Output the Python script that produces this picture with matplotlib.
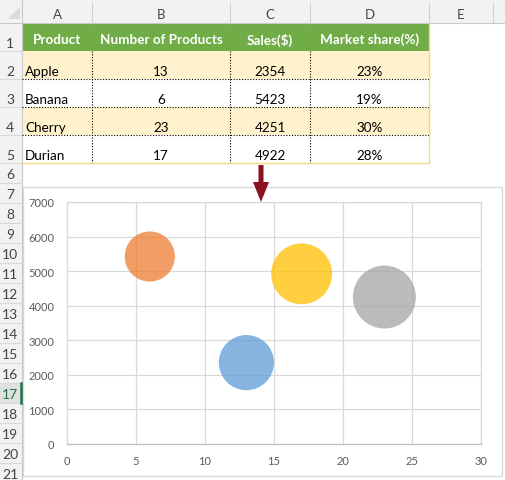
import matplotlib.pyplot as plt
import matplotlib.patches as mpatches
import numpy as np

plt.rcParams['font.family'] = ['Lato', 'DejaVu Sans']

# table / chart data
headers = ['Product', 'Number of Products', 'Sales($)', 'Market share(%)']
products = ['Apple', 'Banana', 'Cherry', 'Durian']
num_products = [13, 6, 23, 17]
sales = [2354, 5423, 4251, 4922]
market_share = [23, 19, 30, 28]
col_letters = ['A', 'B', 'C', 'D', 'E']
row_numbers = list(range(1, 22))
x_ticks = [0, 5, 10, 15, 20, 25, 30]
y_ticks = [0, 1000, 2000, 3000, 4000, 5000, 6000, 7000]
bubble_colors = ['#5B9BD5', '#ED7D31', '#A5A5A5', '#FFC000']

W, H = 506, 481
fig = plt.figure(figsize=(W / 100, H / 100), dpi=100)

# sheet layer, pixel coordinates
bg = fig.add_axes([0, 0, 1, 1], zorder=0)
bg.set_xlim(0, W)
bg.set_ylim(H, 0)
bg.axis('off')

col_edges = [22, 92, 230, 310, 429, 493, 560]
row_edges = [24, 52, 80, 108, 136, 164] + [164 + 20 * k for k in range(1, 17)]
head_gray = '#F2F2F2'

# column header strip
bg.add_patch(mpatches.Rectangle((0, 0), W, 24, facecolor=head_gray, edgecolor='none'))
bg.add_patch(mpatches.Polygon([[8, 20], [20, 20], [20, 8]], closed=True,
                              facecolor='#DADADA', edgecolor='none'))
bg.plot([0, W], [24, 24], color='#C8C8C8', lw=0.8)
for xe in col_edges[1:]:
    bg.plot([xe, xe], [4, 24], color='#D0D0D0', lw=0.8)
for i, letter in enumerate(col_letters):
    bg.text((col_edges[i] + col_edges[i + 1]) / 2 if i < 4 else 461, 15, letter,
            ha='center', va='center', fontsize=9.5, color='#444444')

# row header strip
bg.add_patch(mpatches.Rectangle((0, 24), 22, H - 24, facecolor=head_gray, edgecolor='none'))
bg.plot([22, 22], [0, H], color='#C8C8C8', lw=0.8)
for k, rn in enumerate(row_numbers):
    top = row_edges[k]
    bot = row_edges[k + 1] if k + 1 < len(row_edges) else top + 20
    bg.plot([0, 22], [bot, bot], color='#D8D8D8', lw=0.8)
    active = rn == 17
    if active:
        bg.add_patch(mpatches.Rectangle((0, top), 22, bot - top, facecolor='#E1E1E1', edgecolor='none'))
        bg.plot([21.5, 21.5], [top, bot], color='#217346', lw=1.8)
    bg.text(10, bot - 8 if rn <= 5 else (top + bot) / 2 + 1, str(rn), ha='center', va='center',
            fontsize=10, color='#217346' if active else '#444444')

# table
bg.add_patch(mpatches.Rectangle((22, 24), 407, 28, facecolor='#70AD47', edgecolor='none'))
for i, h in enumerate(headers):
    bg.text((col_edges[i] + col_edges[i + 1]) / 2, 40, h, ha='center', va='center',
            fontsize=9.7, color='white', fontweight='bold')

for r in range(4):
    top, bot = row_edges[r + 1], row_edges[r + 2]
    if r % 2 == 0:
        bg.add_patch(mpatches.Rectangle((22, top), 407, bot - top, facecolor='#FFF2CC', edgecolor='none'))
    yc = bot - 8
    bg.text(25, yc, products[r], ha='left', va='center', fontsize=9.7, color='black')
    row_vals = [str(num_products[r]), str(sales[r]), f'{market_share[r]}%']
    for c, v in enumerate(row_vals):
        bg.text((col_edges[c + 1] + col_edges[c + 2]) / 2, yc, v, ha='center', va='center',
                fontsize=9.7, color='black')
    if r < 3:
        bg.plot([22, 429], [bot, bot], color='black', lw=0.8, ls=(0, (1, 1.5)))

for xe in col_edges[1:4]:
    bg.plot([xe, xe], [52, 164], color='black', lw=0.8, ls=(0, (1, 1.5)))
bg.plot([22, 429, 429], [164, 164, 24], color='#F5D77E', lw=1)

# chart area
bg.add_patch(mpatches.Rectangle((23, 188), 479, 289, facecolor='white', edgecolor='#D9D9D9', lw=1))

# bubble chart
ax = fig.add_axes([67 / W, 1 - 445 / H, 414 / W, 242 / H], zorder=1)
ax.set_facecolor('none')
size_scale = 68.6  # marker area (pt^2) per percent of market share
for i in range(len(products)):
    ax.scatter(num_products[i], sales[i], s=market_share[i] * size_scale,
               color=bubble_colors[i], alpha=0.75, edgecolors='none', zorder=3)

ax.set_xlim(0, 30)
ax.set_ylim(0, 7000)
ax.set_xticks(x_ticks)
ax.set_yticks(y_ticks)
ax.grid(True, color='#D9D9D9', lw=0.9)
ax.set_axisbelow(True)
for side in ['top', 'right', 'left']:
    ax.spines[side].set_color('#D9D9D9')
    ax.spines[side].set_linewidth(0.9)
ax.spines['bottom'].set_color('#BFBFBF')
ax.spines['bottom'].set_linewidth(0.9)
ax.tick_params(axis='both', length=0, labelsize=8, labelcolor='#595959')
ax.tick_params(axis='y', pad=9)
ax.tick_params(axis='x', pad=8)

# arrow on top
top_ax = fig.add_axes([0, 0, 1, 1], zorder=2)
top_ax.set_xlim(0, W)
top_ax.set_ylim(H, 0)
top_ax.axis('off')
top_ax.patch.set_alpha(0)
top_ax.add_patch(mpatches.FancyArrow(261, 166, 0, 37, width=5, head_width=16, head_length=20,
                                     length_includes_head=True, facecolor='#8B1020',
                                     edgecolor='none'))

fig.savefig('out.png', dpi=100)
